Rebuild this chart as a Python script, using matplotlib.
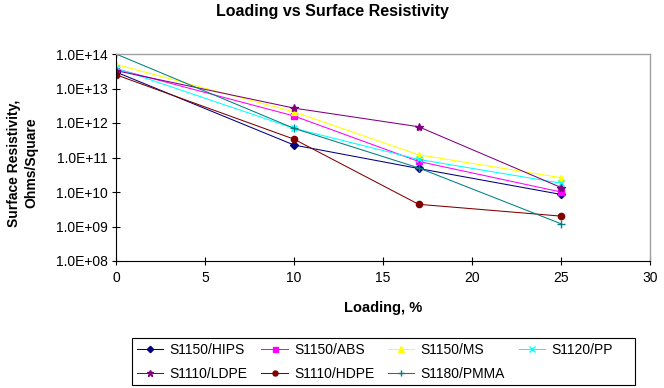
import numpy as np
import matplotlib
matplotlib.use("Agg")
import matplotlib.pyplot as plt
from matplotlib.patches import Rectangle
from matplotlib.ticker import LogLocator, FuncFormatter, NullLocator

plt.rcParams['font.family'] = ['Liberation Sans', 'DejaVu Sans']

###############################################
loading = [0, 10, 17, 25]
series_names = ["S1150/HIPS", "S1150/ABS", "S1150/MS", "S1120/PP",
                "S1110/LDPE", "S1110/HDPE", "S1180/PMMA"]
hips = [3.0e13, 2.3e11, 4.8e10, 8.5e9]
abs_ = [3.7e13, 1.6e12, 7.7e10, 1.0e10]
ms = [5.0e13, 2.1e12, 1.2e11, 2.6e10]
pp = [3.9e13, 7.0e11, 8.8e10, 1.8e10]
ldpe = [3.3e13, 2.7e12, 7.8e11, 1.35e10]
hdpe = [2.5e13, 3.4e11, 4.4e9, 2.0e9]
pmma = [1.0e14, 7.0e11, 5.0e10, 1.2e9]
###############################################

styles = [
    ("#000080", "D", 4),
    ("#FF00FF", "s", 4.5),
    ("#FFFF00", "^", 5),
    ("#00FFFF", "x", 5),
    ("#800080", "*", 6),
    ("#800000", "o", 4.5),
    ("#008080", "+", 6),
]
values = [hips, abs_, ms, pp, ldpe, hdpe, pmma]

W, H = 664, 388
fig = plt.figure(figsize=(W/100, H/100), dpi=100)
ax = fig.add_axes([116/W, 1 - 261/H, (650 - 116)/W, (261 - 54)/H])

lines = []
for name, vals, (col, mk, ms_) in zip(series_names, values, styles):
    ln, = ax.plot(loading, vals, color=col, marker=mk, markersize=ms_, linewidth=0.75,
                  markeredgewidth=1.0, label=name)
    lines.append(ln)

ax.set_yscale("log")
ax.set_ylim(1e8, 1e14)
ax.set_xlim(0, 30)
ax.set_xticks(range(0, 31, 5))
ax.yaxis.set_major_locator(LogLocator(base=10, numticks=10))
ax.yaxis.set_minor_locator(NullLocator())
ax.yaxis.set_major_formatter(FuncFormatter(lambda v, p: "1.0E+%02d" % round(np.log10(v))))

for s in ["left", "bottom"]:
    ax.spines[s].set_color("black")
    ax.spines[s].set_linewidth(0.8)
for s in ["top", "right"]:
    ax.spines[s].set_color("#a0a0a0")
    ax.spines[s].set_linewidth(1.0)

ax.tick_params(axis="both", direction="inout", length=6, width=0.8, labelsize=10)
ax.tick_params(axis="y", pad=3)
ax.tick_params(axis="x", pad=4)

ax.set_xlabel("Loading, %", fontsize=10.5, fontweight="bold", labelpad=12)
fig.text(0.034, 1 - 163/H, "Surface Resistivity,\nOhms/Square", rotation=90,
         ha="center", va="center", fontsize=10, fontweight="bold", linespacing=1.25)
fig.suptitle("Loading vs Surface Resistivity", x=0.5, y=0.99, fontsize=11.5,
             fontweight="bold")

# legend reads row by row in the reference; matplotlib fills columns first
order = [0, 4, 1, 5, 2, 6, 3]
leg = fig.legend([lines[i] for i in order], [series_names[i] for i in order],
                 loc="upper left", bbox_to_anchor=(134/W, 1 - 340/H),
                 ncol=4, fontsize=10, frameon=False,
                 handlelength=1.9, handletextpad=0.45, columnspacing=1.0, borderpad=0.2,
                 labelspacing=0.75, markerscale=0.8, borderaxespad=0)
fig.patches.append(Rectangle((132/W, 1 - 385/H), (635 - 132)/W, (385 - 338)/H,
                             transform=fig.transFigure, fill=False, ec="black", lw=0.8))

fig.savefig("out.png", dpi=100)
